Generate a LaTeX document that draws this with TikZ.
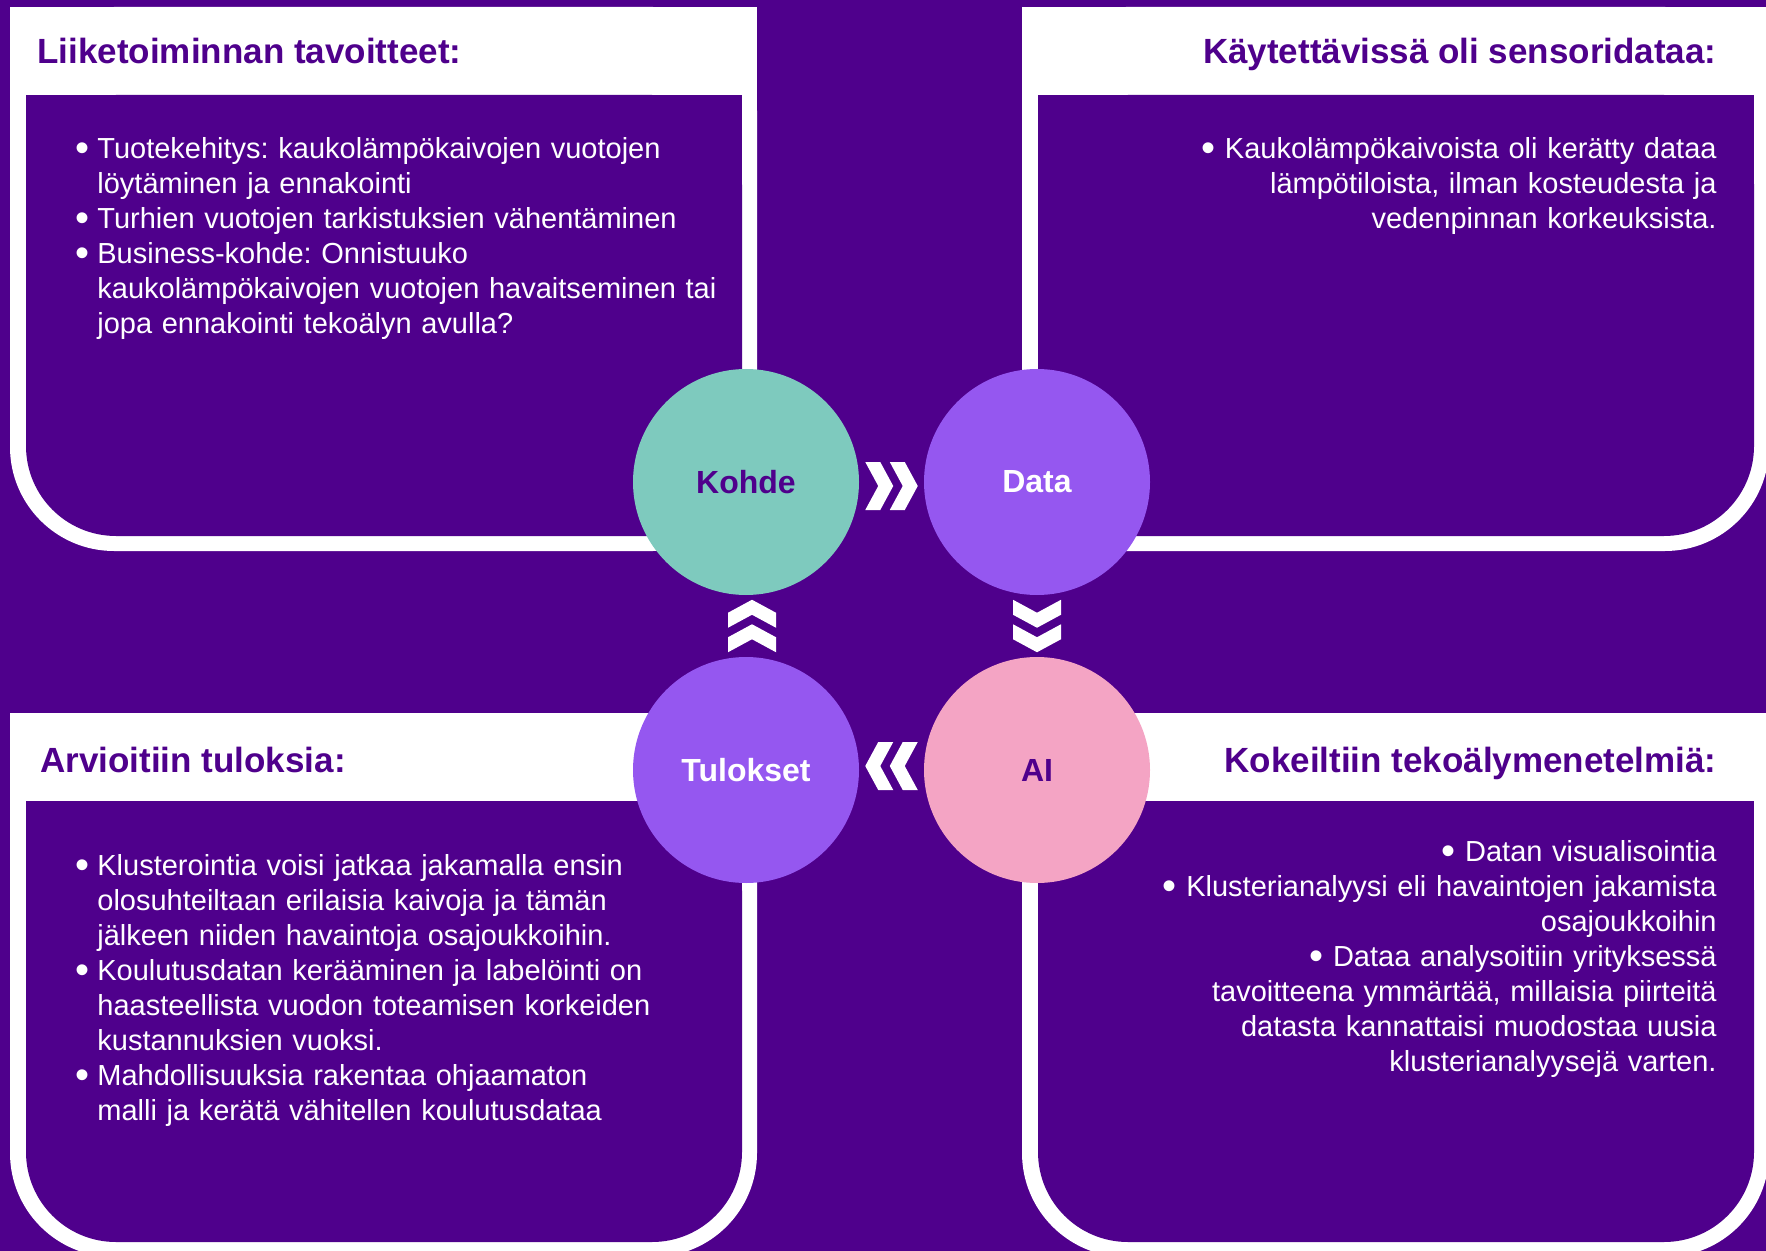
\documentclass[tikz,border=0pt]{standalone}
\usepackage{fontspec}
\setmainfont{Liberation Sans}
\usetikzlibrary{calc}
\frenchspacing

\definecolor{deeppurple}{RGB}{79,0,140}
\definecolor{mint}{RGB}{126,202,190}
\definecolor{lilac}{RGB}{149,87,240}
\definecolor{rose}{RGB}{244,164,196}

\newcommand{\bdot}{\smash{\raisebox{-1.5pt}{\fontsize{20}{17.5}\selectfont•}}}
\newcommand{\bitem}{\makebox[11pt][l]{\bdot}}
\newcommand{\bcont}{\hspace*{11pt}}

\begin{document}
\begin{tikzpicture}[x=0.5pt, y=-0.5pt,
    dchev/.pic={
      \foreach \s in {-12.25, 12.25}
        \fill[white, shift={(\s,0)}] (-14,-24) -- (1,-24) -- (14,0) -- (1,24) -- (-14,24) -- (-1,0) -- cycle;
    }]
  \tikzstyle{phase}=[circle, minimum size=113pt, inner sep=0pt, font=\fontsize{16}{18}\selectfont\bfseries]
  \tikzstyle{heading}=[inner sep=0pt, text=deeppurple, font=\fontsize{17.5}{21}\selectfont\bfseries]
  \tikzstyle{body}=[inner sep=0pt, text=white, text width=360pt, font=\fontsize{14.5}{17.5}\selectfont]

  \useasboundingbox (0,0) rectangle (1766,1251);
  \clip (0,0) rectangle (1766,1251);
  \fill[deeppurple] (0,0) rectangle (1766,1251);

  \foreach \x/\y in {10/7, 1022/7, 10/713, 1022/713} {
    \fill[white, rounded corners=52pt] (\x,\y) rectangle ++(747,544);
    \fill[white] (\x,\y) rectangle ++(747,200);
    \fill[deeppurple, rounded corners=45pt] (\x+16,\y+88) rectangle ++(716,441);
    \fill[deeppurple] (\x+16,\y+88) rectangle ++(716,200);
  }

  \node[heading, anchor=base west] (goalstitle) at (37,64) {Liiketoiminnan tavoitteet:};
  \node[body, anchor=north west, align=left] (goals) at (75,133.5) {\strut\bitem Tuotekehitys: kaukolämpökaivojen vuotojen\\
    \bcont löytäminen ja ennakointi\\
    \bitem Turhien vuotojen tarkistuksien vähentäminen\\
    \bitem Business-kohde: Onnistuuko\\
    \bcont kaukolämpökaivojen vuotojen havaitseminen tai\\
    \bcont jopa ennakointi tekoälyn avulla?};

  \node[heading, anchor=base east] (datatitle) at (1717,64) {Käytettävissä oli sensoridataa:};
  \node[body, anchor=north east, align=right] (datatext) at (1717,133.5) {\strut\bdot\ Kaukolämpökaivoista oli kerätty dataa\\
    lämpötiloista, ilman kosteudesta ja\\
    vedenpinnan korkeuksista.};

  \node[heading, anchor=base west] (resultstitle) at (40,772) {Arvioitiin tuloksia:};
  \node[body, anchor=north west, align=left] (results) at (75,850.5) {\strut\bitem Klusterointia voisi jatkaa jakamalla ensin\\
    \bcont olosuhteiltaan erilaisia kaivoja ja tämän\\
    \bcont jälkeen niiden havaintoja osajoukkoihin.\\
    \bitem Koulutusdatan kerääminen ja labelöinti on\\
    \bcont haasteellista vuodon toteamisen korkeiden\\
    \bcont kustannuksien vuoksi.\\
    \bitem Mahdollisuuksia rakentaa ohjaamaton\\
    \bcont malli ja kerätä vähitellen koulutusdataa};

  \node[heading, anchor=base east] (aititle) at (1717,772) {Kokeiltiin tekoälymenetelmiä:};
  \node[body, anchor=north east, align=right] (aitext) at (1717,836.5) {\strut\bdot\ Datan visualisointia\\
    \bdot\ Klusterianalyysi eli havaintojen jakamista\\
    osajoukkoihin\\
    \bdot\ Dataa analysoitiin yrityksessä\\
    tavoitteena ymmärtää, millaisia piirteitä\\
    datasta kannattaisi muodostaa uusia\\
    klusterianalyysejä varten.};

  \node[phase, fill=mint, text=deeppurple] (kohde) at (746,482) {Kohde};
  \node[phase, fill=lilac, text=white] (data) at (1037,482) {Data};
  \node[phase, fill=rose, text=deeppurple] (ai) at (1037,770) {AI};
  \node[phase, fill=lilac, text=white] (tulokset) at (746,770) {Tulokset};

  \pic at ($(kohde)!0.5!(data)+(0,4)$) {dchev};
  \pic[rotate=-90] at ($(data)!0.5!(ai)$) {dchev};
  \pic[rotate=180] at ($(ai)!0.5!(tulokset)+(0,-4)$) {dchev};
  \pic[rotate=90] at ($(tulokset)!0.5!(kohde)+(6,0)$) {dchev};

\end{tikzpicture}
\end{document}
